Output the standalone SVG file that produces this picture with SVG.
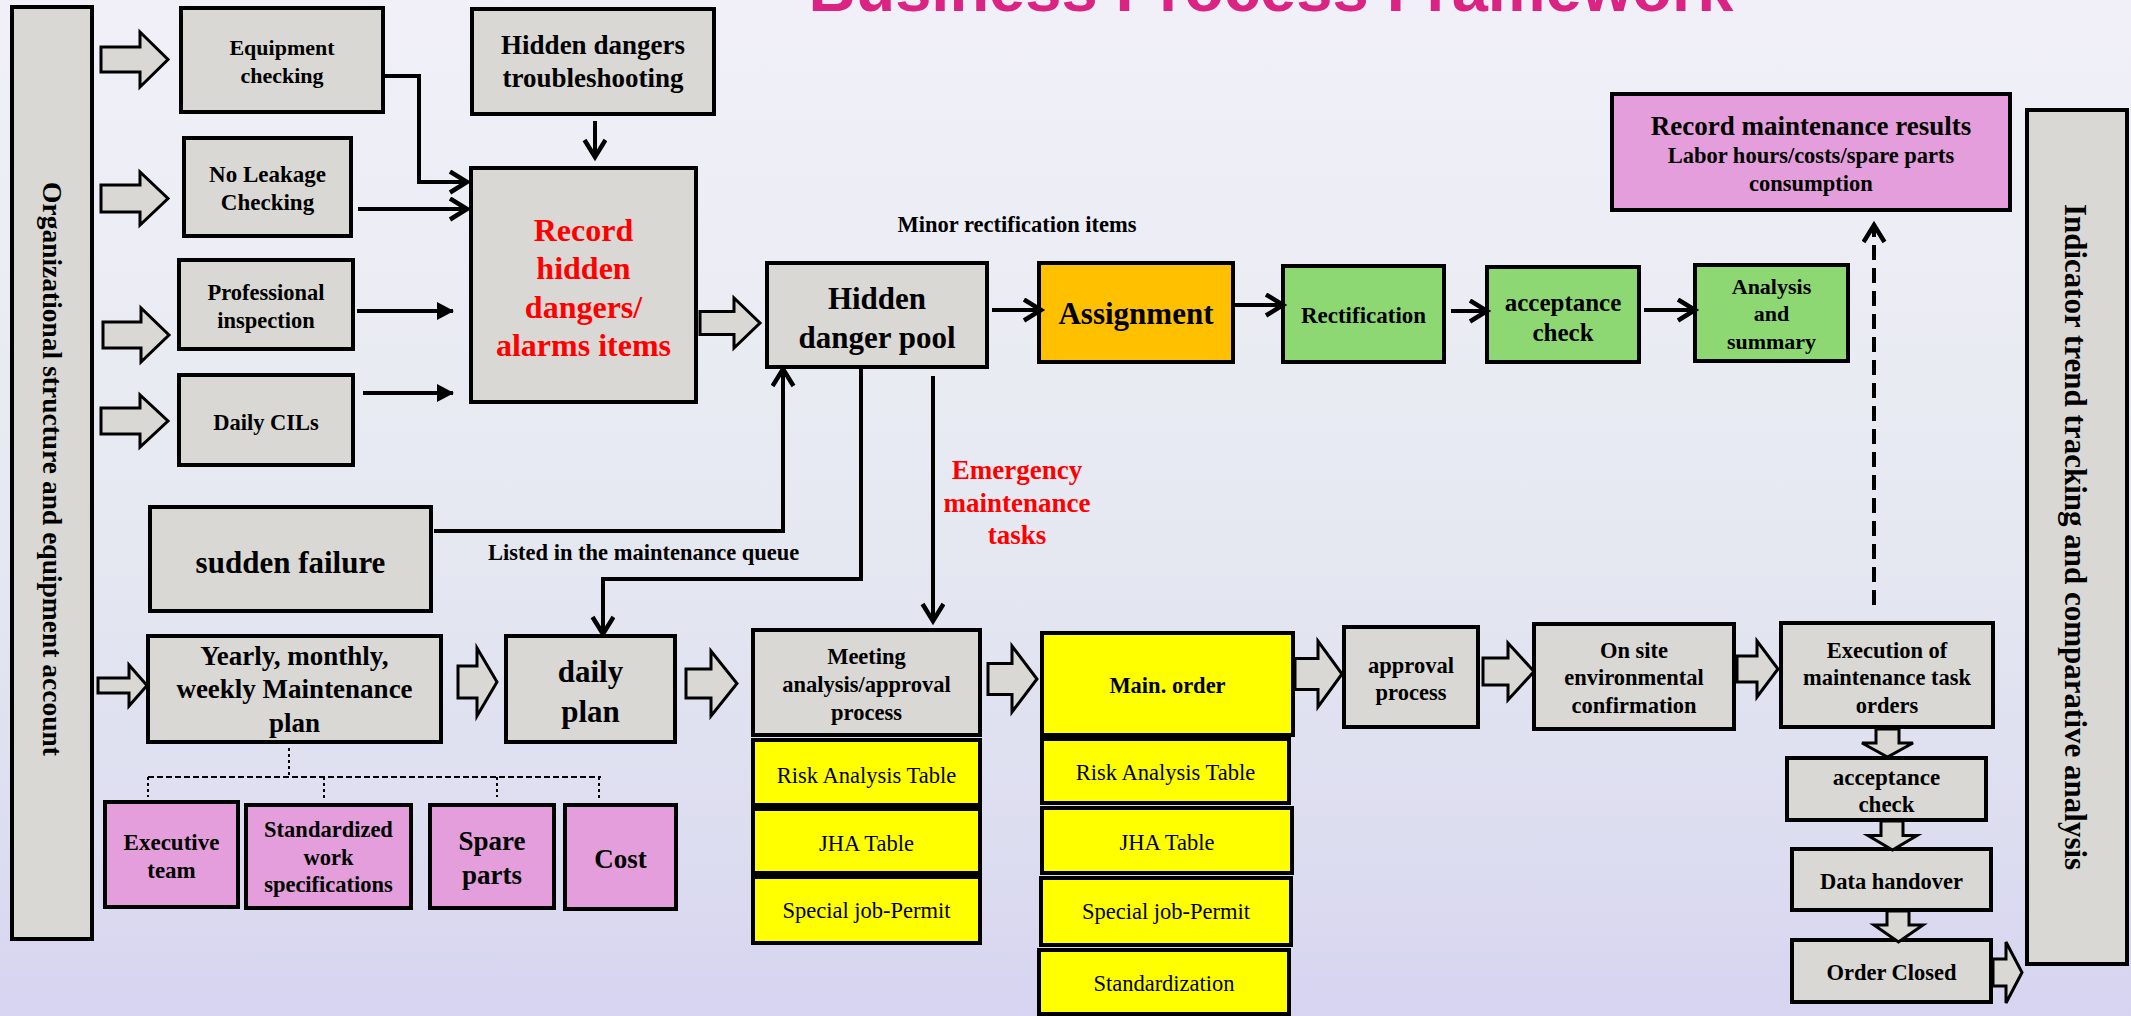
<svg xmlns="http://www.w3.org/2000/svg" width="2131" height="1016" viewBox="0 0 2131 1016">
<defs>
<linearGradient id="bg" x1="0" y1="0" x2="0" y2="1">
<stop offset="0" stop-color="#F1F0F8"/>
<stop offset="0.5" stop-color="#E6E9F1"/>
<stop offset="0.85" stop-color="#DCDCF0"/>
<stop offset="1" stop-color="#D6D4F0"/>
</linearGradient>
<marker id="chev" markerUnits="userSpaceOnUse" markerWidth="32" markerHeight="32" refX="19" refY="12" orient="auto">
<path d="M3,1.5 L20,12 L3,22.5" fill="none" stroke="#000" stroke-width="4.5"/>
</marker>
<marker id="tri" markerUnits="userSpaceOnUse" markerWidth="24" markerHeight="24" refX="16" refY="9" orient="auto">
<path d="M0,0 L17,9 L0,18 Z" fill="#000"/>
</marker>
<style>
.g{fill:#D9D8D4;stroke:#000;stroke-width:4}
.y{fill:#FFFF00;stroke:#000;stroke-width:4}
.gr{fill:#8ED873;stroke:#000;stroke-width:4}
.o{fill:#FFC000;stroke:#000;stroke-width:4}
.p{fill:#E49EDB;stroke:#000;stroke-width:4}
.ha{fill:#D9D8D4;stroke:#000;stroke-width:3;stroke-linejoin:miter}
.t{font-family:"Liberation Serif","Times New Roman",serif;font-weight:bold;fill:#000;text-anchor:middle;dominant-baseline:central}
.tn{font-family:"Liberation Serif","Times New Roman",serif;font-weight:normal;fill:#000;text-anchor:middle;dominant-baseline:central;font-size:22.5px}
.red{fill:#FF0000}
.s22{font-size:22.5px}
.s23{font-size:23px}
.s25{font-size:25px}
.s27{font-size:27px}
.s31{font-size:31px}
.ln{fill:none;stroke:#000;stroke-width:4}
.dot{fill:none;stroke:#000;stroke-width:2;stroke-dasharray:3 3}
</style>
</defs>
<rect x="0" y="0" width="2131" height="1016" fill="url(#bg)"/>
<text x="1271" y="11" font-family="'Liberation Sans',Arial,sans-serif" font-weight="bold" font-size="65" fill="#DA2382" text-anchor="middle">Business Process Framework</text>

<g id="org-bar"><rect class="g" x="12" y="7" width="80" height="932"/>
<text class="t" font-size="27.5" transform="translate(52,469) rotate(90)" x="0" y="0">Organizational structure and equipment account</text></g>
<g id="indicator-bar"><rect class="g" x="2027" y="110" width="100" height="854"/>
<text class="t" font-size="31" transform="translate(2075,537) rotate(90)" x="0" y="0">Indicator trend tracking and comparative analysis</text></g>

<g id="equipment-checking"><rect class="g" x="181" y="8" width="202" height="104"/>
<text class="t" font-size="22" x="282" y="47">Equipment</text><text class="t" font-size="22" x="282" y="75">checking</text></g>
<g id="hidden-dangers-troubleshooting"><rect class="g" x="472" y="9" width="242" height="105"/>
<text class="t s27" x="593" y="45">Hidden dangers</text><text class="t s27" x="593" y="78">troubleshooting</text></g>
<g id="no-leakage-checking"><rect class="g" x="184" y="138" width="167" height="98"/>
<text class="t s23" x="267.5" y="174">No Leakage</text><text class="t s23" x="267.5" y="202">Checking</text></g>
<g id="professional-inspection"><rect class="g" x="179" y="260" width="174" height="89"/>
<text class="t s22" x="266" y="292">Professional</text><text class="t s22" x="266" y="320">inspection</text></g>
<g id="daily-cils"><rect class="g" x="179" y="375" width="174" height="90"/>
<text class="t s22" x="266" y="422">Daily CILs</text></g>
<g id="record-hidden-dangers"><rect class="g" x="471" y="168" width="225" height="234"/>
<text class="t red" font-size="32" x="583.5" y="230">Record</text>
<text class="t red" font-size="32" x="583.5" y="268">hidden</text>
<text class="t red" font-size="32" x="583.5" y="307">dangers/</text>
<text class="t red" font-size="32" x="583.5" y="345">alarms items</text></g>
<g id="hidden-danger-pool"><rect class="g" x="767" y="263" width="220" height="104"/>
<text class="t s31" x="877" y="298">Hidden</text><text class="t s31" x="877" y="337">danger pool</text></g>
<g id="assignment"><rect class="o" x="1039" y="263" width="194" height="99"/>
<text class="t s31" x="1136" y="313">Assignment</text></g>
<g id="rectification"><rect class="gr" x="1283" y="266" width="161" height="96"/>
<text class="t s23" x="1363.5" y="315">Rectification</text></g>
<g id="acceptance-check-1"><rect class="gr" x="1487" y="267" width="152" height="95"/>
<text class="t s25" x="1563" y="302">acceptance</text><text class="t s25" x="1563" y="332">check</text></g>
<g id="analysis-summary"><rect class="gr" x="1695" y="265" width="153" height="96"/>
<text class="t" font-size="22" x="1771.5" y="286">Analysis</text><text class="t" font-size="22" x="1771.5" y="313">and</text><text class="t" font-size="22" x="1771.5" y="341">summary</text></g>
<g id="record-maintenance-results"><rect class="p" x="1612" y="94" width="398" height="116"/>
<text class="t s27" x="1811" y="126">Record maintenance results</text>
<text class="t s22" x="1811" y="155">Labor hours/costs/spare parts</text>
<text class="t s22" x="1811" y="183">consumption</text></g>
<g id="sudden-failure"><rect class="g" x="150" y="507" width="281" height="104"/>
<text class="t s31" x="290.5" y="562">sudden failure</text></g>
<g id="maintenance-plan"><rect class="g" x="148" y="636" width="293" height="106"/>
<text class="t s27" x="294.5" y="656">Yearly, monthly,</text>
<text class="t s27" x="294.5" y="689">weekly Maintenance</text>
<text class="t s27" x="294.5" y="723">plan</text></g>
<g id="daily-plan"><rect class="g" x="506" y="636" width="169" height="106"/>
<text class="t s31" x="590.5" y="671">daily</text><text class="t s31" x="590.5" y="711">plan</text></g>
<g id="meeting-analysis"><rect class="g" x="753" y="630" width="227" height="105"/>
<text class="t s22" x="866.5" y="656">Meeting</text><text class="t s22" x="866.5" y="684">analysis/approval</text><text class="t s22" x="866.5" y="712">process</text></g>
<g id="risk-table-1"><rect class="y" x="753" y="740" width="227" height="65"/><text class="tn" x="866.5" y="775">Risk Analysis Table</text></g>
<g id="jha-table-1"><rect class="y" x="753" y="809" width="227" height="64"/><text class="tn" x="866.5" y="843">JHA Table</text></g>
<g id="special-permit-1"><rect class="y" x="753" y="877" width="227" height="66"/><text class="tn" x="866.5" y="910">Special job-Permit</text></g>
<g id="main-order"><rect class="y" x="1042" y="633" width="251" height="102"/>
<text class="t s22" x="1167.5" y="685">Main. order</text></g>
<g id="risk-table-2"><rect class="y" x="1042" y="739" width="247" height="64"/><text class="tn" x="1165.5" y="772">Risk Analysis Table</text></g>
<g id="jha-table-2"><rect class="y" x="1042" y="808" width="250" height="65"/><text class="tn" x="1167" y="842">JHA Table</text></g>
<g id="special-permit-2"><rect class="y" x="1041" y="878" width="250" height="67"/><text class="tn" x="1166" y="911">Special job-Permit</text></g>
<g id="standardization"><rect class="y" x="1039" y="950" width="250" height="64"/><text class="tn" x="1164" y="983">Standardization</text></g>
<g id="approval-process"><rect class="g" x="1344" y="627" width="134" height="100"/>
<text class="t s22" x="1411" y="665">approval</text><text class="t s22" x="1411" y="692">process</text></g>
<g id="on-site-confirmation"><rect class="g" x="1534" y="624" width="200" height="105"/>
<text class="t s22" x="1634" y="650">On site</text><text class="t s22" x="1634" y="677">environmental</text><text class="t s22" x="1634" y="705">confirmation</text></g>
<g id="execution"><rect class="g" x="1781" y="623" width="212" height="104"/>
<text class="t s22" x="1887" y="650">Execution of</text><text class="t s22" x="1887" y="677">maintenance task</text><text class="t s22" x="1887" y="705">orders</text></g>
<g id="acceptance-check-2"><rect class="g" x="1787" y="758" width="199" height="62"/>
<text class="t s23" x="1886.5" y="777">acceptance</text><text class="t s23" x="1886.5" y="804">check</text></g>
<g id="data-handover"><rect class="g" x="1792" y="849" width="199" height="61"/>
<text class="t s22" x="1891.5" y="881">Data handover</text></g>
<g id="order-closed"><rect class="g" x="1792" y="940" width="199" height="62"/>
<text class="t s22" x="1891.5" y="972">Order Closed</text></g>
<g id="executive-team"><rect class="p" x="105" y="802" width="133" height="105"/>
<text class="t s23" x="171.5" y="842">Executive</text><text class="t s23" x="171.5" y="870">team</text></g>
<g id="standardized-work"><rect class="p" x="246" y="805" width="165" height="103"/>
<text class="t s22" x="328.5" y="829">Standardized</text><text class="t s22" x="328.5" y="857">work</text><text class="t s22" x="328.5" y="884">specifications</text></g>
<g id="spare-parts"><rect class="p" x="430" y="805" width="124" height="103"/>
<text class="t s27" x="492" y="841">Spare</text><text class="t s27" x="492" y="875">parts</text></g>
<g id="cost"><rect class="p" x="565" y="805" width="111" height="104"/>
<text class="t s27" x="620.5" y="859">Cost</text></g>

<g id="connectors">
<polygon class="ha" points="101,47 140,47 140,32 168,59.5 140,87 140,72 101,72"/>
<polygon class="ha" points="101,185 140,185 140,172 168,198.5 140,225 140,212 101,212"/>
<polygon class="ha" points="103,322 141,322 141,308 169,335 141,362 141,348 103,348"/>
<polygon class="ha" points="101,408 140,408 140,395 168,421 140,447 140,434 101,434"/>
<polygon class="ha" points="700,311.5 734,311.5 734,298 760,323 734,348 734,334.5 700,334.5"/>
<polygon class="ha" points="98,678 129,678 129,665 147,685.5 129,706 129,693 98,693"/>
<polygon class="ha" points="458,666 477,666 477,648 497,682 477,716 477,698 458,698"/>
<polygon class="ha" points="686,669 711,669 711,651 737,683.5 711,716 711,698 686,698"/>
<polygon class="ha" points="988,663.5 1012,663.5 1012,646 1037,679 1012,712 1012,694.5 988,694.5"/>
<polygon class="ha" points="1295,658.5 1318,658.5 1318,641 1342,674 1318,707 1318,689.5 1295,689.5"/>
<polygon class="ha" points="1483,658 1508,658 1508,643 1534,671.5 1508,700 1508,685 1483,685"/>
<polygon class="ha" points="1737,656 1757,656 1757,641 1778,669 1757,697 1757,682 1737,682"/>
<polygon class="ha" points="1993,959 2006,959 2006,942 2022,972.5 2006,1003 2006,986 1993,986"/>
<polygon class="ha" points="1876,729 1899,729 1899,743 1913,743 1887.5,757 1862,743 1876,743"/>
<polygon class="ha" points="1881,821 1903,821 1903,835.5 1917,835.5 1892.5,850 1868,835.5 1881,835.5"/>
<polygon class="ha" points="1887,911 1909,911 1909,925 1923,925 1898.5,942 1874,925 1887,925"/>

<path class="ln" d="M383,76 H419 V182 H466" marker-end="url(#chev)"/>
<path class="ln" d="M358,209 H466" marker-end="url(#chev)"/>
<path class="ln" d="M357,311 H453" marker-end="url(#tri)"/>
<path class="ln" d="M363,393 H453" marker-end="url(#tri)"/>
<path class="ln" d="M595,121 V156" marker-end="url(#chev)"/>
<path class="ln" d="M992,310 H1040" marker-end="url(#chev)"/>
<path class="ln" d="M1235,305 H1282" marker-end="url(#chev)"/>
<path class="ln" d="M1451,311 H1486" marker-end="url(#chev)"/>
<path class="ln" d="M1644,310 H1694" marker-end="url(#chev)"/>
<path class="ln" d="M434,531 H783 V370" marker-end="url(#chev)"/>
<path class="ln" d="M861,367 V579 H603 V633" marker-end="url(#chev)"/>
<path class="ln" d="M933,376 V620" marker-end="url(#chev)"/>
<path class="ln" d="M1874,605 V226" stroke-dasharray="15 8" marker-end="url(#chev)"/>

<path class="dot" d="M289,748 V777"/>
<path fill="none" stroke="#000" stroke-width="2" stroke-dasharray="6 3" d="M148,777 H601"/>
<path class="dot" d="M148,777 V797 M324,777 V800 M497,777 V797 M599,777 V799"/>

<text class="t s22" x="1017" y="224">Minor rectification items</text>
<text class="t s22" x="488" y="552" style="text-anchor:start">Listed in the maintenance queue</text>
<text class="t s27 red" x="1017" y="470">Emergency</text>
<text class="t s27 red" x="1017" y="503">maintenance</text>
<text class="t s27 red" x="1017" y="535">tasks</text>
</g>
</svg>
